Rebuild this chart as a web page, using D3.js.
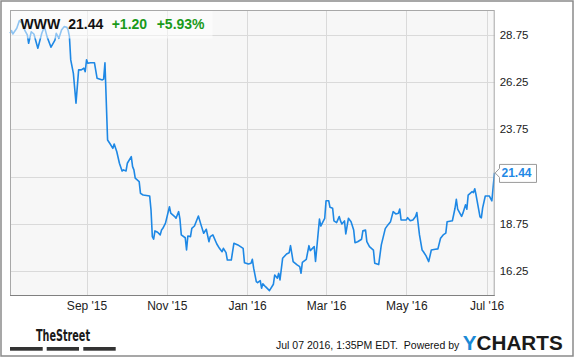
<!DOCTYPE html>
<html>
<head>
<meta charset="utf-8">
<script src="https://cdn.jsdelivr.net/npm/d3@7"></script>
<style>
  body { margin: 0; background: #fff; }
  svg { display: block; font-family: "Liberation Sans", Arial, sans-serif; }
</style>
</head>
<body>
<svg id="chart" width="575" height="358"></svg>
<script>
// price history (date, close)
const dates = [
  "2015-07-05","2015-07-06","2015-07-07","2015-07-10","2015-07-12","2015-07-14","2015-07-16","2015-07-18","2015-07-19","2015-07-21",
  "2015-07-23","2015-07-26","2015-07-29","2015-07-31","2015-08-02","2015-08-05","2015-08-08","2015-08-09","2015-08-11","2015-08-13",
  "2015-08-15","2015-08-17","2015-08-18","2015-08-19","2015-08-20","2015-08-22","2015-08-24","2015-08-26","2015-08-28","2015-08-30",
  "2015-08-31","2015-09-01","2015-09-02","2015-09-04","2015-09-07","2015-09-09","2015-09-13","2015-09-14","2015-09-15","2015-09-17",
  "2015-09-19","2015-09-21","2015-09-22","2015-09-24","2015-09-26","2015-09-28","2015-09-29","2015-10-01","2015-10-02","2015-10-05",
  "2015-10-06","2015-10-07","2015-10-08","2015-10-11","2015-10-12","2015-10-14","2015-10-19","2015-10-20","2015-10-21","2015-10-22",
  "2015-10-23","2015-10-25","2015-10-27","2015-10-28","2015-10-29","2015-10-31","2015-11-03","2015-11-04","2015-11-07","2015-11-08",
  "2015-11-10","2015-11-11","2015-11-12","2015-11-15","2015-11-16","2015-11-17","2015-11-19","2015-11-20","2015-11-22","2015-11-25",
  "2015-11-27","2015-11-29","2015-12-01","2015-12-03","2015-12-04","2015-12-06","2015-12-09","2015-12-11","2015-12-13","2015-12-14",
  "2015-12-16","2015-12-17","2015-12-20","2015-12-22","2015-12-25","2015-12-27","2015-12-29","2015-12-30","2016-01-02","2016-01-04",
  "2016-01-05","2016-01-06","2016-01-08","2016-01-09","2016-01-11","2016-01-12","2016-01-13","2016-01-15","2016-01-18","2016-01-21",
  "2016-01-22","2016-01-24","2016-01-25","2016-01-26","2016-01-28","2016-01-31","2016-02-02","2016-02-03","2016-02-05","2016-02-08",
  "2016-02-10","2016-02-11","2016-02-12","2016-02-15","2016-02-17","2016-02-18","2016-02-21","2016-02-22","2016-02-25","2016-02-26",
  "2016-02-28","2016-02-29","2016-03-01","2016-03-03","2016-03-04","2016-03-06","2016-03-07","2016-03-09","2016-03-11","2016-03-12",
  "2016-03-13","2016-03-15","2016-03-16","2016-03-18","2016-03-20","2016-03-22","2016-03-23","2016-03-25","2016-03-28","2016-03-29",
  "2016-03-31","2016-04-01","2016-04-03","2016-04-06","2016-04-07","2016-04-10","2016-04-12","2016-04-15","2016-04-17","2016-04-19",
  "2016-04-21","2016-04-23","2016-04-25","2016-04-26","2016-04-27","2016-04-29","2016-05-01","2016-05-02","2016-05-04","2016-05-06",
  "2016-05-08","2016-05-09","2016-05-11","2016-05-13","2016-05-14","2016-05-16","2016-05-18","2016-05-20","2016-05-23","2016-05-25",
  "2016-05-27","2016-05-29","2016-05-31","2016-06-01","2016-06-05","2016-06-07","2016-06-08","2016-06-09","2016-06-12","2016-06-13",
  "2016-06-15","2016-06-16","2016-06-17","2016-06-20","2016-06-21","2016-06-22","2016-06-23","2016-06-26","2016-06-27","2016-06-28",
  "2016-06-30","2016-07-03","2016-07-05","2016-07-06","2016-07-07"
];
const closes = [
  28.83,28.97,28.79,29.09,29.50,29.36,29.00,28.74,28.30,28.91,
  28.79,28.04,28.83,29.18,28.65,28.09,28.47,28.83,28.56,29.00,
  29.18,29.15,29.00,28.65,27.42,26.71,25.13,26.89,26.89,26.98,
  26.80,27.42,27.24,27.27,27.27,26.45,26.36,26.40,27.27,23.18,
  22.97,22.74,22.97,22.56,21.95,21.54,21.60,21.54,21.95,22.30,
  21.77,21.60,21.16,20.98,20.36,20.27,20.22,19.48,18.07,17.93,
  18.37,18.30,18.16,18.42,18.51,18.78,19.65,19.31,19.13,19.04,
  19.39,18.99,18.16,18.01,17.36,18.10,18.07,18.51,18.63,19.16,
  18.69,18.25,18.46,17.80,18.07,18.16,17.68,17.45,17.27,17.45,
  17.22,16.83,16.83,17.72,17.63,17.54,17.45,16.69,16.62,16.66,
  16.87,16.40,15.69,15.63,15.74,15.34,15.57,15.42,15.21,15.55,
  16.04,15.87,16.13,15.78,16.92,17.15,17.22,17.59,16.75,16.57,
  16.48,16.13,16.71,16.87,17.59,17.33,17.54,16.75,19.00,18.63,
  18.90,19.04,19.97,19.97,19.62,19.57,18.90,18.81,19.13,18.90,
  18.74,18.90,18.21,19.04,18.86,18.42,17.75,17.80,17.93,18.38,
  18.42,17.80,17.54,17.36,16.66,16.59,17.63,18.49,18.69,18.86,
  19.39,19.27,19.31,19.53,18.95,18.95,18.95,19.07,18.91,18.95,
  19.13,19.34,18.16,17.36,17.27,17.05,16.75,17.36,17.40,17.42,
  17.98,18.16,18.25,18.86,18.91,19.57,20.04,19.53,19.14,19.31,
  19.75,19.52,20.27,20.45,20.40,20.60,20.27,19.11,19.06,19.59,
  20.22,20.22,19.96,20.71,21.44
];

// axis ticks
const monthTicks = ["2015-09-01","2015-11-01","2016-01-01","2016-03-01","2016-05-01","2016-07-01"];
const yTicks = [28.75, 26.25, 23.75, 21.25, 18.75, 16.25];
const yTickLabels = ["28.75", "26.25", "23.75", "", "18.75", "16.25"];

// header / footer text
const ticker = "WWW";
const lastPrice = "21.44";
const change = "+1.20";
const changePct = "+5.93%";
const stamp = "Jul 07 2016, 1:35PM EDT.  Powered by";

const parse = d3.timeParse("%Y-%m-%d");
const data = dates.map((d, i) => ({ date: parse(d), close: closes[i] }));

// plot box
const plot = { left: 10, top: 10, right: 494.7, bottom: 295 };

const svg = d3.select("#chart");

// outer frame
svg.append("rect")
  .attr("x", 1).attr("y", 1)
  .attr("width", 572).attr("height", 355)
  .attr("fill", "#fff")
  .attr("stroke", "#8a8a8a")
  .attr("stroke-width", 1.5);

const x = d3.scaleTime()
  .domain([parse("2015-07-05"), parse("2016-07-07")])
  .range([10.2, 494.5]);

const y = d3.scaleLinear()
  .domain([14.98, 30.06])
  .range([plot.bottom, plot.top]);

// plot background
svg.append("rect")
  .attr("x", plot.left).attr("y", plot.top)
  .attr("width", plot.right - plot.left).attr("height", plot.bottom - plot.top)
  .attr("fill", "#f7f7f7");

// grid
svg.append("g").selectAll("line")
  .data(yTicks)
  .enter().append("line")
  .attr("x1", plot.left).attr("x2", plot.right)
  .attr("y1", d => Math.round(y(d)) + 0.5)
  .attr("y2", d => Math.round(y(d)) + 0.5)
  .attr("stroke", "#dadada");

svg.append("g").selectAll("line")
  .data(monthTicks.map(parse))
  .enter().append("line")
  .attr("y1", plot.top).attr("y2", plot.bottom)
  .attr("x1", d => Math.round(x(d)) + 0.5)
  .attr("x2", d => Math.round(x(d)) + 0.5)
  .attr("stroke", "#dadada");

// price line
const line = d3.line()
  .x(d => x(d.date))
  .y(d => y(d.close));

svg.append("path")
  .datum(data)
  .attr("d", line)
  .attr("fill", "none")
  .attr("stroke", "#1e88e5")
  .attr("stroke-width", 1.6)
  .attr("stroke-linejoin", "round");

// faded band behind the title
svg.append("rect")
  .attr("x", plot.left + 0.5).attr("y", plot.top + 0.5)
  .attr("width", 202).attr("height", 28)
  .attr("fill", "#fff")
  .attr("opacity", 0.5);

// plot border
svg.append("rect")
  .attr("x", plot.left + 0.5).attr("y", plot.top + 0.5)
  .attr("width", plot.right - plot.left - 1).attr("height", plot.bottom - plot.top)
  .attr("fill", "none")
  .attr("stroke", "#a8a8a8");
svg.append("line")
  .attr("x1", plot.left).attr("x2", plot.right)
  .attr("y1", plot.bottom + 0.5).attr("y2", plot.bottom + 0.5)
  .attr("stroke", "#808080");

// title
const title = svg.append("g")
  .attr("font-size", "14px")
  .attr("font-weight", "bold");
title.append("text").attr("x", 20.5).attr("y", 28.5).attr("fill", "#111").text(ticker);
title.append("text").attr("x", 68.3).attr("y", 28.5).attr("fill", "#111").text(lastPrice);
title.append("text").attr("x", 111.7).attr("y", 28.5).attr("fill", "#1a9a1a").text(change);
title.append("text").attr("x", 156.7).attr("y", 28.5).attr("fill", "#1a9a1a").text(changePct);

// axes
const yAxis = svg.append("g")
  .attr("transform", `translate(${plot.right},0)`)
  .call(d3.axisRight(y).tickValues(yTicks).tickFormat((d, i) => yTickLabels[i]).tickSize(0).tickPadding(5));
yAxis.select(".domain").remove();
yAxis.selectAll("text").attr("font-size", "11.5px").attr("fill", "#222").attr("font-family", "Liberation Sans, Arial, sans-serif");

const xAxis = svg.append("g")
  .attr("transform", `translate(0,${plot.bottom})`)
  .call(d3.axisBottom(x).tickValues(monthTicks.map(parse)).tickFormat(d3.timeFormat("%b '%y")).tickSize(0).tickPadding(6));
xAxis.select(".domain").remove();
xAxis.selectAll("text").attr("font-size", "12px").attr("fill", "#222").attr("font-family", "Liberation Sans, Arial, sans-serif");

// last value flag
const lastY = y(closes[closes.length - 1]);
svg.append("path")
  .attr("d", `M${plot.right + 0.5},${lastY} L499.5,${lastY - 4.5} L499.5,${lastY - 8.5} L536.5,${lastY - 8.5} L536.5,${lastY + 9.5} L499.5,${lastY + 9.5} L499.5,${lastY + 4.5} Z`)
  .attr("fill", "#fff")
  .attr("stroke", "#9a9a9a");
svg.append("text")
  .attr("x", 501.5).attr("y", lastY + 4.5)
  .attr("font-size", "12px").attr("font-weight", "bold")
  .attr("fill", "#1e88e5")
  .text(lastPrice);

// footer
svg.append("text")
  .attr("x", 36).attr("y", 341)
  .attr("font-family", "'Liberation Sans Narrow', 'DejaVu Sans Condensed', sans-serif")
  .attr("font-size", "16px").attr("font-weight", "bold")
  .attr("textLength", 54).attr("lengthAdjust", "spacingAndGlyphs")
  .attr("fill", "#1a1a1a")
  .text("TheStreet");
[[10, 42.7], [46.7, 79], [83.3, 115.7]].forEach(b => {
  svg.append("rect")
    .attr("x", b[0]).attr("y", 347)
    .attr("width", b[1] - b[0]).attr("height", 3.7)
    .attr("fill", "#333");
});

svg.append("text")
  .attr("x", 459.3).attr("y", 348.5)
  .attr("text-anchor", "end")
  .attr("font-size", "10.5px")
  .attr("fill", "#111")
  .style("white-space", "pre")
  .text(stamp);

const yc = svg.append("text")
  .attr("x", 462.7).attr("y", 349.5)
  .attr("font-size", "20px").attr("font-weight", "bold")
  .attr("textLength", 100).attr("lengthAdjust", "spacingAndGlyphs");
yc.append("tspan").attr("fill", "#1a8ad6").text("Y");
yc.append("tspan").attr("fill", "#1a1a1a").text("CHARTS");
</script>
</body>
</html>
